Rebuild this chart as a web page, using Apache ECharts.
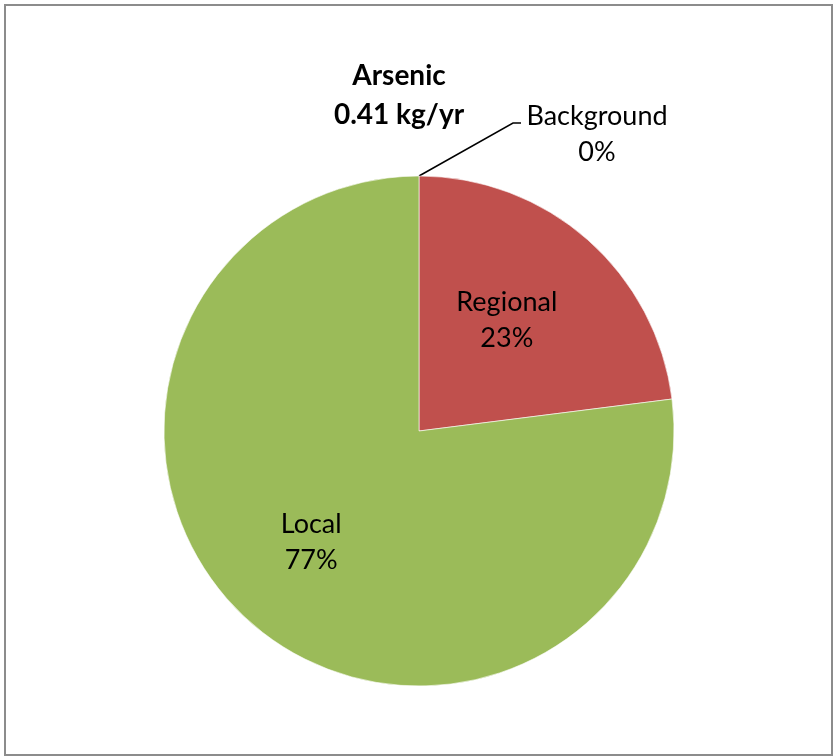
<!DOCTYPE html>
<html>
<head>
<meta charset="utf-8">
<script src="https://cdn.jsdelivr.net/npm/echarts@6/dist/echarts.min.js"></script>
<style>
  html, body { margin: 0; padding: 0; background: #fff; }
  #chart { width: 834px; height: 756px; }
</style>
</head>
<body>
<div id="chart"></div>
<script>
// Source shares of the arsenic load (percent of total)
const sources = ['Background', 'Regional', 'Local'];
const shares = [0, 23, 77];
const sliceColors = ['#4F81BD', '#C0504D', '#9BBB59'];
const chartTitle = 'Arsenic\n0.41 kg/yr';

const FONT = 'Lato, "Open Sans", sans-serif';
const CENTER = [419, 431];
const RADIUS = 255;
const INNER_LABEL_RATIO = 0.58;
const INNER_LABEL_DX = -10;

// Mid-angle (clockwise from 12 o'clock, radians) of each slice
const total = shares.reduce((a, b) => a + b, 0);
const midAngles = [];
shares.reduce((acc, v) => {
  midAngles.push((acc + v / 2) / total * Math.PI * 2);
  return acc + v;
}, 0);

const chart = echarts.init(document.getElementById('chart'), null, { renderer: 'canvas' });

const data = sources.map((name, i) => ({
  name: name,
  value: shares[i],
  itemStyle: { color: sliceColors[i] },
  label: i === 0
    ? { position: 'outside', align: 'center' }
    : { position: 'inside' },
  labelLine: { show: i === 0 }
}));

chart.setOption({
  animation: false,
  backgroundColor: '#ffffff',
  title: {
    text: chartTitle,
    left: 394,
    top: 51,
    textAlign: 'center',
    textStyle: {
      fontFamily: FONT,
      fontSize: 28,
      fontWeight: 'bold',
      color: '#000',
      lineHeight: 39
    }
  },
  graphic: [{
    type: 'rect',
    shape: { x: 5, y: 5, width: 827, height: 750 },
    style: { fill: 'none', stroke: '#8c8c8c', lineWidth: 2 },
    silent: true,
    z: 100
  }],
  series: [{
    type: 'pie',
    center: CENTER,
    radius: RADIUS,
    startAngle: 90,
    clockwise: true,
    avoidLabelOverlap: false,
    itemStyle: { borderColor: '#ffffff', borderWidth: 0.6 },
    label: {
      show: true,
      formatter: '{b}\n{d}%',
      fontFamily: FONT,
      fontSize: 27,
      lineHeight: 36,
      color: '#000'
    },
    labelLine: {
      show: true,
      lineStyle: { color: '#000', width: 1.5 }
    },
    labelLayout: function (params) {
      if (params.dataIndex === 0) {
        // Leader line runs up-right from the slice edge, then a short flat run
        const p0 = params.labelLinePoints ? params.labelLinePoints[0] : [CENTER[0], CENTER[1] - RADIUS];
        const elbow = [p0[0] + 94, p0[1] - 53];
        const end = [elbow[0] + 8, elbow[1]];
        return {
          x: end[0] + 76,
          y: end[1] + 11,
          align: 'center',
          verticalAlign: 'middle',
          labelLinePoints: [p0, elbow, end]
        };
      }
      // Inside labels sit a little beyond mid-radius, on the slice's bisector
      const a = midAngles[params.dataIndex];
      const rr = RADIUS * INNER_LABEL_RATIO;
      return {
        x: CENTER[0] + rr * Math.sin(a) + INNER_LABEL_DX,
        y: CENTER[1] - rr * Math.cos(a),
        align: 'center',
        verticalAlign: 'middle'
      };
    },
    data: data
  }]
});
</script>
</body>
</html>
